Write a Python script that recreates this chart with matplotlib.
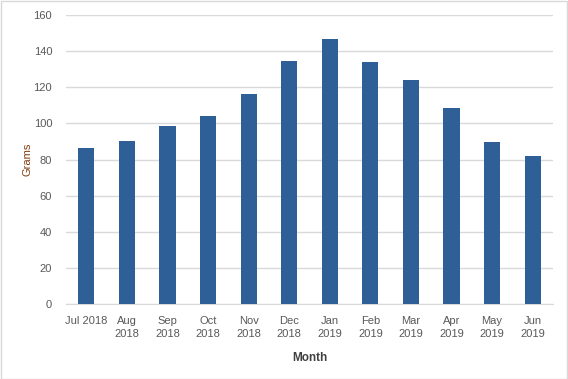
import matplotlib.pyplot as plt
import numpy as np

months = ["Jul 2018", "Aug\n2018", "Sep\n2018", "Oct\n2018", "Nov\n2018", "Dec\n2018",
          "Jan\n2019", "Feb\n2019", "Mar\n2019", "Apr\n2019", "May\n2019", "Jun\n2019"]
grams = [86.5, 90.5, 98.6, 104.2, 116.4, 134.6, 146.8, 134.1, 124.1, 108.6, 89.8, 82.1]
yticks = [0, 20, 40, 60, 80, 100, 120, 140, 160]

plt.rcParams['font.family'] = ['Liberation Sans', 'DejaVu Sans']

fig = plt.figure(figsize=(5.68, 3.79), dpi=100)
ax = fig.add_axes([66/568, 1 - 304/379, (553-66)/568, (304-15)/379])

x = np.arange(len(months))
ax.bar(x, grams, width=0.4, color="#2E5F96", zorder=3)

ax.set_xlim(-0.5, len(months) - 0.5)
ax.set_ylim(0, 160)
ax.set_yticks(yticks)
ax.set_xticks(x)
ax.set_xticklabels(months, linespacing=1.35)
ax.grid(axis="y", color="#D9D9D9", linewidth=1, zorder=0)
for s in ["top", "right", "left"]:
    ax.spines[s].set_visible(False)
ax.spines["bottom"].set_color("#D9D9D9")
ax.tick_params(axis="both", length=0, colors="#595959", labelsize=8)
ax.tick_params(axis="y", pad=10)
ax.tick_params(axis="x", pad=9)

ax.set_ylabel("Grams", color="#843C0C", fontsize=8)
ax.yaxis.set_label_coords(-0.068, 0.5)
ax.set_xlabel("Month", color="#404040", fontsize=8.5, fontweight="bold", labelpad=9)

# light gray outer border
fig.patches.append(plt.Rectangle((0.001, 0.001), 0.997, 0.997, transform=fig.transFigure,
                                 fill=False, edgecolor="#D9D9D9", linewidth=1))

fig.savefig("out.png", dpi=100)
